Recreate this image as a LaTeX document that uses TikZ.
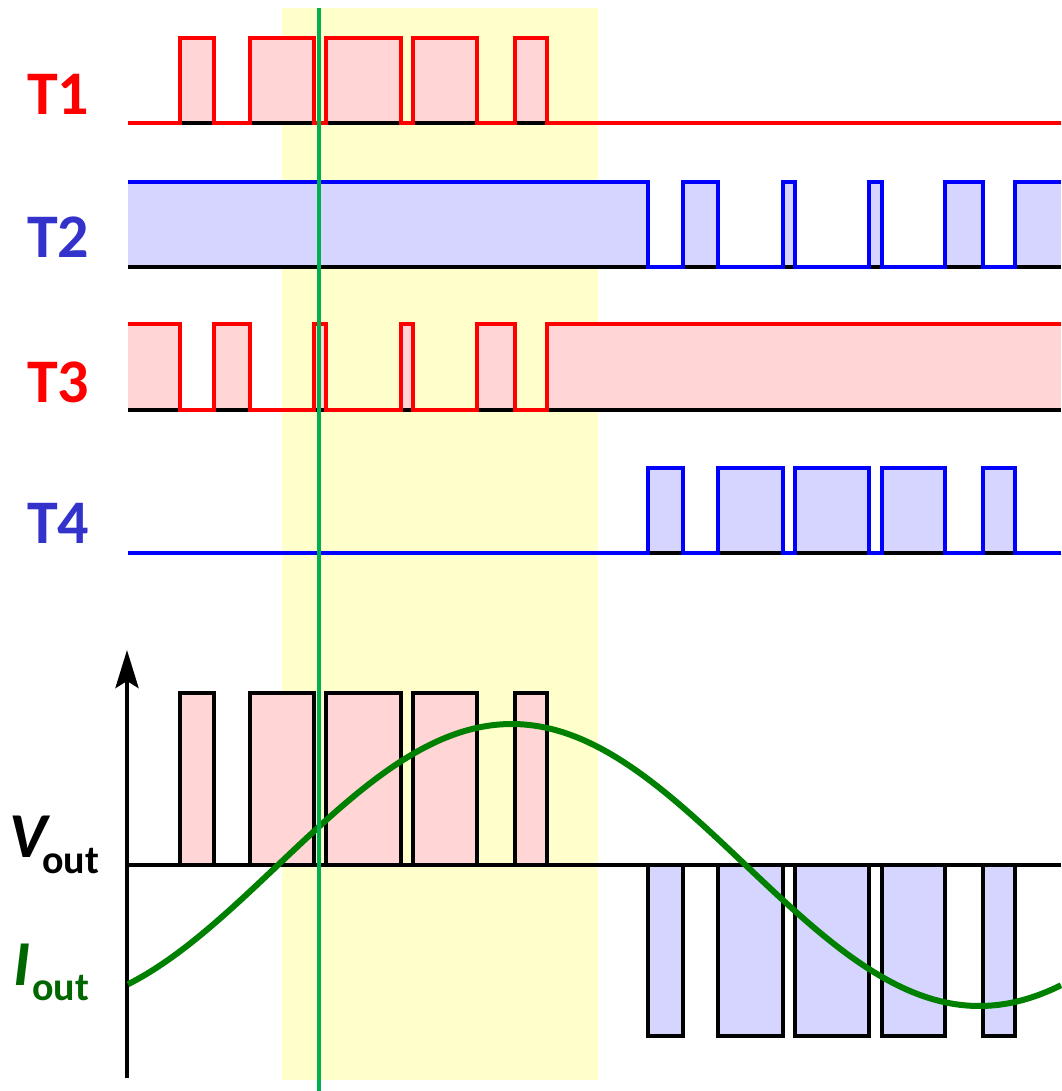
\documentclass[tikz,border=0pt]{standalone}
\usepackage{fontspec}
\setmainfont{Carlito}
\usetikzlibrary{arrows.meta}
\definecolor{pinkf}{HTML}{FFD5D5}
\definecolor{bluef}{HTML}{D5D5FF}
\definecolor{bandyel}{HTML}{FFFFCC}
\definecolor{sigred}{HTML}{FF0000}
\definecolor{sigblue}{HTML}{0000FF}
\definecolor{lblblue}{HTML}{3333CC}
\definecolor{curvegreen}{HTML}{008000}
\definecolor{lblgreen}{HTML}{006600}
\definecolor{markgreen}{HTML}{00B050}
\tikzset{
  sig/.style={line width=4.5pt, line join=miter, line cap=butt},
  baseln/.style={line width=4.5pt, black},
  pulsebox/.style={line width=4.5pt, draw=black, line join=miter},
  tlabel/.style={font=\fontsize{62}{62}\selectfont\bfseries, inner sep=0pt, anchor=base west},
  biglbl/.style={font=\fontsize{64}{64}\selectfont\bfseries\itshape, inner sep=0pt, anchor=base west},
  sublbl/.style={font=\fontsize{40}{40}\selectfont\bfseries, inner sep=0pt, anchor=base west}
}
\begin{document}
\begin{tikzpicture}[x=1pt,y=-1pt]
\useasboundingbox (0,0) rectangle (1061,1091);
% yellow band
\fill[bandyel] (282,8) rectangle (598,1080);
% fills
\foreach \a/\b in {180/214,250/314,326/401,413/477,515/547}
  \fill[pinkf] (\a,38) rectangle (\b,123);
\foreach \a/\b in {128/648,683/718,783/795,869/882,945/983,1015/1061}
  \fill[bluef] (\a,182) rectangle (\b,267);
\foreach \a/\b in {128/180,214/250,314/326,401/413,477/515,547/1061}
  \fill[pinkf] (\a,324) rectangle (\b,410);
\foreach \a/\b in {648/683,718/783,795/869,882/945,983/1015}
  \fill[bluef] (\a,468) rectangle (\b,553);
% baselines
\foreach \y in {123,267,410,553}
  \draw[baseln] (128,\y) -- (1061,\y);
% waveforms
\draw[sig, sigred] (128,123)--(180,123)--(180,38)--(214,38)--(214,123)--(250,123)--(250,38)--(314,38)--(314,123)--(326,123)--(326,38)--(401,38)--(401,123)--(413,123)--(413,38)--(477,38)--(477,123)--(515,123)--(515,38)--(547,38)--(547,123)--(1061,123);
\draw[sig, sigblue] (128,182)--(648,182)--(648,267)--(683,267)--(683,182)--(718,182)--(718,267)--(783,267)--(783,182)--(795,182)--(795,267)--(869,267)--(869,182)--(882,182)--(882,267)--(945,267)--(945,182)--(983,182)--(983,267)--(1015,267)--(1015,182)--(1061,182);
\draw[sig, sigred] (128,324)--(180,324)--(180,410)--(214,410)--(214,324)--(250,324)--(250,410)--(314,410)--(314,324)--(326,324)--(326,410)--(401,410)--(401,324)--(413,324)--(413,410)--(477,410)--(477,324)--(515,324)--(515,410)--(547,410)--(547,324)--(1061,324);
\draw[sig, sigblue] (128,553)--(648,553)--(648,468)--(683,468)--(683,553)--(718,553)--(718,468)--(783,468)--(783,553)--(795,553)--(795,468)--(869,468)--(869,553)--(882,553)--(882,468)--(945,468)--(945,553)--(983,553)--(983,468)--(1015,468)--(1015,553)--(1061,553);
% labels
\node[tlabel, text=sigred] (t1) at (27,115) {T1};
\node[tlabel, text=lblblue] (t2) at (27,258) {T2};
\node[tlabel, text=sigred] (t3) at (27,402) {T3};
\node[tlabel, text=lblblue] (t4) at (27,543) {T4};
% output pulses
\foreach \a/\b in {180/214,250/314,326/401,413/477,515/547}
  \filldraw[pulsebox, fill=pinkf] (\a,865) rectangle (\b,693);
\foreach \a/\b in {648/683,718/783,795/869,882/945,983/1015}
  \filldraw[pulsebox, fill=bluef] (\a,865) rectangle (\b,1036);
% axes
\coordinate (axbot) at (127,1078);
\coordinate (axtop) at (127,650);
\coordinate (axorg) at (125,865);
\coordinate (axright) at (1061,865);
\draw[line width=4.5pt] (axorg) -- (axright);
\draw[line width=4.5pt, -{Stealth[length=38pt,width=23pt,inset=7pt]}] (axbot) -- (axtop);
% current
\draw[line width=6pt, curvegreen] plot[domain=128:1061, samples=120, smooth] (\x, {865-141*sin((\x-278)*0.3850267)});
% axis labels
\node[biglbl] (vV) at (9,857) {V};
\node[sublbl] (vout) at (42,873) {out};
\node[biglbl, text=lblgreen] (iI) at (13,985) {I};
\node[sublbl, text=lblgreen] (iout) at (32,1000) {out};
% marker line
\coordinate (mtop) at (318.5,8);
\coordinate (mbot) at (318.5,1091);
\draw[line width=4pt, markgreen] (mtop) -- (mbot);
\end{tikzpicture}
\end{document}
